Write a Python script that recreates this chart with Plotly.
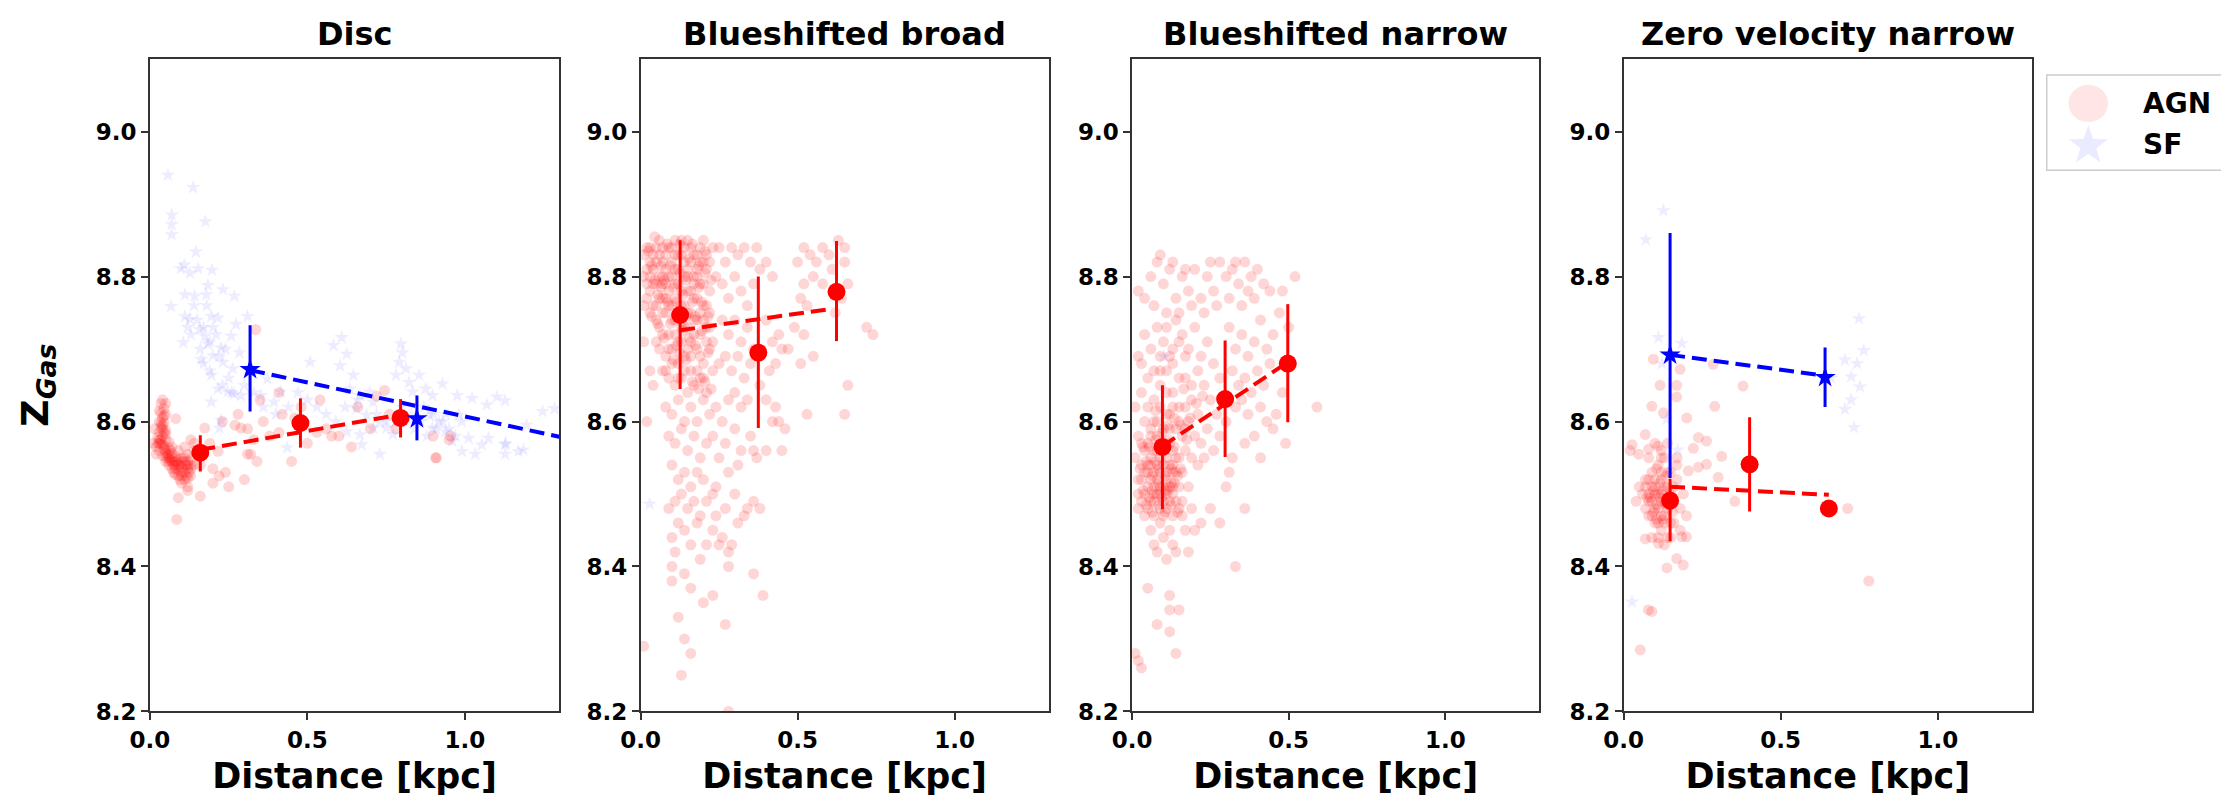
import math
import plotly.graph_objects as go

# ---------------- data ----------------
panel_titles = ["Disc", "Blueshifted broad", "Blueshifted narrow", "Zero velocity narrow"]

# Disc
disc_agn = [
    (0.04, 8.630), (0.05, 8.625), (0.045, 8.618), (0.035, 8.612), (0.05, 8.610), (0.04, 8.605), (0.03, 8.600),
    (0.045, 8.598), (0.035, 8.592), (0.05, 8.588), (0.03, 8.585), (0.04, 8.580), (0.025, 8.578), (0.05, 8.575),
    (0.035, 8.570), (0.045, 8.566), (0.02, 8.565), (0.06, 8.563), (0.03, 8.560), (0.05, 8.557), (0.07, 8.556),
    (0.04, 8.553), (0.06, 8.550), (0.08, 8.552), (0.09, 8.548), (0.07, 8.545), (0.10, 8.545), (0.11, 8.550),
    (0.12, 8.555), (0.08, 8.540), (0.10, 8.538), (0.12, 8.540), (0.13, 8.548), (0.09, 8.533), (0.11, 8.530),
    (0.13, 8.535), (0.10, 8.525), (0.12, 8.522), (0.08, 8.527), (0.06, 8.540), (0.05, 8.545), (0.02, 8.555),
    (0.01, 8.570), (0.015, 8.590), (0.06, 8.572), (0.07, 8.565), (0.14, 8.560), (0.13, 8.575), (0.11, 8.565),
    (0.09, 8.560), (0.03, 8.615), (0.04, 8.595), (0.05, 8.583), (0.035, 8.575), (0.045, 8.562), (0.055, 8.553),
    (0.065, 8.547), (0.075, 8.540), (0.085, 8.545), (0.095, 8.540), (0.105, 8.535), (0.115, 8.540),
    (0.125, 8.530), (0.07, 8.535), (0.09, 8.525), (0.11, 8.520), (0.13, 8.525), (0.025, 8.57), (0.03, 8.57),
    (0.04, 8.59), (0.06, 8.555), (0.08, 8.545), (0.10, 8.55), (0.12, 8.545), (0.14, 8.54), (0.10, 8.515),
    (0.12, 8.51),
    (0.035, 8.625), (0.045, 8.608), (0.035, 8.598), (0.045, 8.585), (0.03, 8.575), (0.04, 8.568),
    (0.05, 8.560), (0.06, 8.545), (0.07, 8.550), (0.08, 8.535), (0.09, 8.540), (0.10, 8.530), (0.11, 8.545),
    (0.12, 8.535), (0.13, 8.540), (0.075, 8.530), (0.095, 8.520), (0.115, 8.525), (0.05, 8.550), (0.065, 8.560),
    (0.09, 8.495), (0.12, 8.505), (0.085, 8.465), (0.16, 8.497), (0.20, 8.515), (0.25, 8.510),
    (0.30, 8.52), (0.14, 8.57), (0.20, 8.535), (0.22, 8.525), (0.19, 8.57), (0.23, 8.60), (0.27, 8.595),
    (0.28, 8.61), (0.31, 8.59), (0.32, 8.555), (0.33, 8.575), (0.36, 8.60), (0.38, 8.58), (0.41, 8.585),
    (0.42, 8.61), (0.45, 8.545), (0.46, 8.605), (0.50, 8.57), (0.53, 8.585), (0.56, 8.59), (0.60, 8.58),
    (0.64, 8.565), (0.70, 8.59), (0.35, 8.63), (0.41, 8.64), (0.48, 8.62), (0.54, 8.63), (0.66, 8.62),
    (0.72, 8.635), (0.76, 8.61), (0.90, 8.58), (0.95, 8.575), (0.91, 8.55), (0.78, 8.59), (0.24, 8.53),
    (0.34, 8.545), (0.16, 8.54), (0.336, 8.727), (0.082, 8.604), (0.174, 8.591), (0.216, 8.559), (0.289, 8.591),
    (0.31, 8.555), (0.577, 8.580), (0.745, 8.643), (0.907, 8.550), (0.955, 8.580),
]
disc_sf = [
    (0.057, 8.940), (0.137, 8.923), (0.069, 8.885), (0.069, 8.872), (0.069, 8.858), (0.176, 8.876),
    (0.146, 8.834), (0.109, 8.816), (0.127, 8.805), (0.098, 8.811), (0.153, 8.811), (0.197, 8.809),
    (0.184, 8.788), (0.067, 8.759), (0.111, 8.775), (0.142, 8.773), (0.179, 8.775), (0.232, 8.782),
    (0.268, 8.773), (0.111, 8.745), (0.127, 8.741), (0.195, 8.745), (0.216, 8.743), (0.158, 8.727),
    (0.174, 8.718), (0.106, 8.709), (0.184, 8.707), (0.226, 8.702), (0.258, 8.718), (0.310, 8.745),
    (0.273, 8.734), (0.163, 8.686), (0.200, 8.691), (0.232, 8.682), (0.263, 8.673), (0.284, 8.695),
    (0.195, 8.664), (0.216, 8.645), (0.247, 8.641), (0.268, 8.638), (0.289, 8.636), (0.195, 8.627),
    (0.226, 8.602), (0.221, 8.591), (0.373, 8.659), (0.352, 8.636), (0.394, 8.627), (0.415, 8.641),
    (0.436, 8.564), (0.509, 8.682), (0.583, 8.705), (0.609, 8.716), (0.625, 8.693), (0.604, 8.677),
    (0.646, 8.664), (0.635, 8.645), (0.667, 8.636), (0.698, 8.641), (0.709, 8.627), (0.656, 8.618),
    (0.688, 8.609), (0.730, 8.600), (0.751, 8.591), (0.709, 8.591), (0.772, 8.582), (0.667, 8.582),
    (0.625, 8.586), (0.730, 8.555), (0.672, 8.568), (0.797, 8.707), (0.802, 8.695), (0.792, 8.682),
    (0.813, 8.673), (0.782, 8.664), (0.823, 8.654), (0.834, 8.641), (0.855, 8.664), (0.876, 8.645),
    (0.897, 8.636), (0.929, 8.652), (0.887, 8.609), (0.918, 8.600), (0.897, 8.591), (0.939, 8.586),
    (0.976, 8.636), (0.981, 8.609), (0.960, 8.573), (0.991, 8.559), (1.023, 8.632), (1.012, 8.577),
    (1.033, 8.555), (1.054, 8.568), (1.070, 8.623), (1.075, 8.577), (1.102, 8.634), (1.128, 8.629),
    (1.128, 8.568), (1.128, 8.555), (1.170, 8.559), (1.196, 8.595), (1.247, 8.614), (1.285, 8.618),
    (1.186, 8.561), (1.13, 8.57),
    (0.13, 8.72), (0.15, 8.74), (0.17, 8.73), (0.19, 8.71), (0.21, 8.72), (0.16, 8.70), (0.14, 8.76),
    (0.18, 8.76), (0.20, 8.73), (0.22, 8.69), (0.24, 8.70), (0.25, 8.66), (0.12, 8.73), (0.17, 8.68),
    (0.19, 8.67), (0.23, 8.65), (0.26, 8.64), (0.30, 8.65), (0.33, 8.64), (0.36, 8.62), (0.40, 8.61),
    (0.44, 8.62), (0.47, 8.64), (0.50, 8.63), (0.53, 8.62), (0.56, 8.61), (0.59, 8.60), (0.62, 8.62),
    (0.66, 8.63), (0.72, 8.61), (0.75, 8.60), (0.78, 8.60), (0.82, 8.60), (0.84, 8.59), (0.86, 8.60),
    (0.88, 8.58), (0.90, 8.61), (0.93, 8.60), (0.95, 8.59), (0.97, 8.58), (0.99, 8.60), (0.80, 8.62),
    (0.83, 8.61), (0.87, 8.62), (0.91, 8.59), (0.94, 8.61),
]

# Blueshifted broad
broad_agn = [
    (0.01, 8.83), (0.02, 8.81), (0.03, 8.84), (0.04, 8.79), (0.05, 8.82), (0.06, 8.85), (0.07, 8.80),
    (0.08, 8.83), (0.09, 8.78), (0.10, 8.84), (0.11, 8.81), (0.12, 8.79), (0.13, 8.85), (0.14, 8.82),
    (0.15, 8.78), (0.16, 8.84), (0.17, 8.80), (0.18, 8.83), (0.19, 8.79), (0.20, 8.85), (0.21, 8.81),
    (0.22, 8.78), (0.23, 8.84), (0.24, 8.80),
    (0.02, 8.77), (0.03, 8.75), (0.05, 8.76), (0.06, 8.73), (0.07, 8.77), (0.08, 8.75), (0.09, 8.72),
    (0.10, 8.76), (0.11, 8.74), (0.12, 8.71), (0.13, 8.76), (0.14, 8.73), (0.15, 8.75), (0.16, 8.71),
    (0.17, 8.77), (0.18, 8.74), (0.19, 8.72), (0.20, 8.76), (0.21, 8.73), (0.22, 8.75), (0.23, 8.71),
    (0.04, 8.83), (0.06, 8.80), (0.08, 8.79), (0.10, 8.80), (0.12, 8.83), (0.14, 8.80), (0.16, 8.78),
    (0.18, 8.80), (0.20, 8.82), (0.03, 8.80), (0.07, 8.84), (0.11, 8.85), (0.15, 8.85), (0.19, 8.84),
    (0.02, 8.84), (0.03, 8.82), (0.04, 8.81), (0.05, 8.79), (0.06, 8.83), (0.07, 8.82), (0.08, 8.81),
    (0.09, 8.84), (0.10, 8.82), (0.11, 8.79), (0.12, 8.81), (0.13, 8.83), (0.14, 8.84), (0.15, 8.81),
    (0.16, 8.82), (0.17, 8.83), (0.18, 8.81), (0.19, 8.82), (0.20, 8.79), (0.21, 8.83), (0.22, 8.82),
    (0.02, 8.79), (0.04, 8.76), (0.05, 8.74), (0.06, 8.77), (0.07, 8.75), (0.08, 8.77), (0.09, 8.76),
    (0.10, 8.74), (0.11, 8.77), (0.12, 8.75), (0.13, 8.73), (0.14, 8.76), (0.15, 8.73), (0.16, 8.75),
    (0.17, 8.74), (0.18, 8.77), (0.19, 8.75), (0.20, 8.74), (0.21, 8.76), (0.22, 8.73),
    (0.05, 8.71), (0.07, 8.72), (0.09, 8.70), (0.11, 8.72), (0.13, 8.71), (0.15, 8.70), (0.17, 8.72),
    (0.19, 8.69), (0.21, 8.71), (0.08, 8.67), (0.12, 8.66), (0.16, 8.69), (0.18, 8.67), (0.20, 8.66),
    (0.14, 8.67), (0.10, 8.68), (0.09, 8.80), (0.13, 8.78), (0.17, 8.79), (0.11, 8.83), (0.15, 8.80),
    (0.07, 8.79), (0.05, 8.84), (0.03, 8.78), (0.01, 8.80), (0.01, 8.76),
    (0.025, 8.835), (0.035, 8.815), (0.045, 8.795), (0.055, 8.775), (0.065, 8.815), (0.075, 8.795),
    (0.085, 8.765), (0.095, 8.815), (0.105, 8.785), (0.115, 8.765), (0.125, 8.805), (0.135, 8.775),
    (0.145, 8.745), (0.155, 8.825), (0.165, 8.765), (0.175, 8.745), (0.185, 8.785), (0.195, 8.765),
    (0.205, 8.805), (0.215, 8.745), (0.225, 8.795), (0.035, 8.745), (0.055, 8.735), (0.075, 8.715),
    (0.095, 8.735), (0.115, 8.705), (0.135, 8.725), (0.155, 8.715), (0.175, 8.705), (0.195, 8.725),
    (0.215, 8.695), (0.105, 8.685), (0.125, 8.695), (0.145, 8.685), (0.165, 8.655), (0.185, 8.645),
    (0.205, 8.655), (0.225, 8.645), (0.085, 8.845), (0.125, 8.845), (0.165, 8.845), (0.205, 8.835),
    (0.045, 8.855), (0.065, 8.785), (0.145, 8.795), (0.185, 8.815),
    (0.06, 8.70), (0.08, 8.69), (0.10, 8.70), (0.12, 8.68), (0.14, 8.69), (0.16, 8.67), (0.18, 8.70),
    (0.20, 8.68), (0.22, 8.70), (0.07, 8.67), (0.09, 8.66), (0.11, 8.65), (0.13, 8.66), (0.15, 8.64),
    (0.17, 8.65), (0.19, 8.66), (0.21, 8.64), (0.23, 8.67), (0.25, 8.68),
    (0.08, 8.62), (0.10, 8.61), (0.12, 8.63), (0.14, 8.60), (0.16, 8.62), (0.18, 8.60), (0.20, 8.63),
    (0.22, 8.61), (0.24, 8.62), (0.26, 8.60), (0.28, 8.63), (0.09, 8.58), (0.11, 8.57), (0.13, 8.59),
    (0.15, 8.56), (0.17, 8.58), (0.19, 8.55), (0.21, 8.57), (0.23, 8.58), (0.25, 8.55), (0.27, 8.57),
    (0.30, 8.59), (0.32, 8.56), (0.35, 8.58), (0.37, 8.55), (0.10, 8.54), (0.12, 8.52), (0.14, 8.53),
    (0.16, 8.51), (0.18, 8.53), (0.20, 8.52), (0.24, 8.51), (0.28, 8.53), (0.31, 8.54), (0.36, 8.56),
    (0.40, 8.56), (0.13, 8.50), (0.15, 8.48), (0.17, 8.49), (0.21, 8.49), (0.19, 8.47), (0.23, 8.50),
    (0.27, 8.48), (0.30, 8.50),
    (0.25, 8.84), (0.27, 8.82), (0.29, 8.84), (0.31, 8.83), (0.33, 8.84), (0.35, 8.82), (0.37, 8.84),
    (0.26, 8.79), (0.28, 8.77), (0.30, 8.80), (0.32, 8.78), (0.34, 8.76), (0.36, 8.79), (0.38, 8.81),
    (0.40, 8.82), (0.42, 8.80), (0.26, 8.74), (0.28, 8.72), (0.30, 8.74), (0.32, 8.71), (0.34, 8.73),
    (0.36, 8.70), (0.40, 8.74), (0.42, 8.71), (0.44, 8.72), (0.27, 8.69), (0.29, 8.67), (0.31, 8.69),
    (0.33, 8.66), (0.35, 8.68), (0.38, 8.65), (0.41, 8.67), (0.43, 8.68), (0.45, 8.70), (0.47, 8.70),
    (0.30, 8.64), (0.32, 8.62), (0.34, 8.63), (0.40, 8.63), (0.43, 8.62), (0.42, 8.60), (0.44, 8.60),
    (0.46, 8.59), (0.45, 8.56),
    (0.50, 8.82), (0.52, 8.84), (0.54, 8.83), (0.56, 8.82), (0.58, 8.84), (0.60, 8.83), (0.63, 8.85),
    (0.65, 8.84), (0.52, 8.79), (0.55, 8.80), (0.58, 8.79), (0.61, 8.81), (0.65, 8.82), (0.51, 8.77),
    (0.53, 8.76), (0.64, 8.77), (0.66, 8.79), (0.72, 8.73), (0.74, 8.72), (0.49, 8.73), (0.52, 8.72),
    (0.55, 8.69), (0.51, 8.68), (0.66, 8.65), (0.53, 8.61), (0.65, 8.61), (0.62, 8.75),
    (0.12, 8.46), (0.10, 8.44), (0.14, 8.45), (0.18, 8.46), (0.23, 8.45), (0.26, 8.44), (0.11, 8.42),
    (0.16, 8.43), (0.21, 8.43), (0.25, 8.43), (0.29, 8.43), (0.33, 8.47), (0.34, 8.48), (0.38, 8.48),
    (0.36, 8.49), (0.24, 8.47), (0.31, 8.46), (0.10, 8.40), (0.14, 8.39), (0.19, 8.41), (0.28, 8.42),
    (0.16, 8.37), (0.20, 8.35), (0.28, 8.40), (0.23, 8.36), (0.10, 8.38), (0.12, 8.33), (0.14, 8.30),
    (0.16, 8.28), (0.27, 8.32), (0.13, 8.25), (0.28, 8.20), (0.39, 8.36), (0.36, 8.39), (0.01, 8.29),
    (0.02, 8.60), (0.03, 8.67), (0.04, 8.65), (0.01, 8.71), (0.09, 8.48), (0.11, 8.49),
]
broad_sf = [(0.029, 8.486)]

# Blueshifted narrow
narrow_agn = [
    (0.01, 8.55), (0.02, 8.52), (0.03, 8.57), (0.04, 8.50), (0.05, 8.54), (0.06, 8.49), (0.07, 8.56),
    (0.08, 8.52), (0.09, 8.48), (0.10, 8.54), (0.11, 8.50), (0.12, 8.57), (0.13, 8.53), (0.14, 8.49),
    (0.15, 8.55), (0.02, 8.58), (0.04, 8.60), (0.06, 8.58), (0.08, 8.60), (0.10, 8.59), (0.12, 8.61),
    (0.14, 8.59), (0.03, 8.54), (0.05, 8.51), (0.07, 8.53), (0.09, 8.55), (0.11, 8.52), (0.13, 8.56),
    (0.06, 8.52), (0.08, 8.50), (0.10, 8.51), (0.12, 8.49), (0.05, 8.57), (0.07, 8.50), (0.09, 8.51),
    (0.11, 8.55), (0.13, 8.51), (0.15, 8.51), (0.16, 8.53), (0.17, 8.56), (0.16, 8.49), (0.18, 8.51),
    (0.04, 8.47), (0.07, 8.47), (0.10, 8.47), (0.13, 8.47), (0.06, 8.45), (0.09, 8.46), (0.12, 8.45),
    (0.16, 8.47), (0.19, 8.48),
    (0.02, 8.50), (0.03, 8.49), (0.04, 8.53), (0.05, 8.48), (0.06, 8.55), (0.07, 8.51), (0.08, 8.54),
    (0.09, 8.50), (0.10, 8.49), (0.11, 8.53), (0.12, 8.51), (0.13, 8.50), (0.14, 8.53), (0.15, 8.48),
    (0.03, 8.52), (0.05, 8.53), (0.07, 8.49), (0.09, 8.53), (0.11, 8.48), (0.13, 8.54), (0.04, 8.56),
    (0.06, 8.54), (0.08, 8.56), (0.10, 8.56), (0.12, 8.54), (0.14, 8.55), (0.08, 8.58), (0.10, 8.57),
    (0.06, 8.59), (0.12, 8.59), (0.16, 8.58), (0.09, 8.62), (0.13, 8.62), (0.07, 8.60), (0.11, 8.64),
    (0.15, 8.60), (0.17, 8.62), (0.19, 8.65), (0.21, 8.67), (0.09, 8.67), (0.13, 8.68), (0.17, 8.69),
    (0.15, 8.71), (0.11, 8.73),
    (0.025, 8.535), (0.035, 8.505), (0.045, 8.545), (0.055, 8.495), (0.065, 8.525), (0.075, 8.545),
    (0.085, 8.515), (0.095, 8.495), (0.105, 8.525), (0.115, 8.505), (0.125, 8.535), (0.135, 8.515),
    (0.145, 8.525), (0.155, 8.535), (0.035, 8.565), (0.055, 8.565), (0.075, 8.575), (0.095, 8.565),
    (0.115, 8.575), (0.135, 8.565), (0.045, 8.485), (0.065, 8.475), (0.085, 8.485), (0.105, 8.475),
    (0.125, 8.485), (0.145, 8.475), (0.065, 8.505), (0.085, 8.535), (0.105, 8.505), (0.125, 8.515),
    (0.095, 8.585), (0.115, 8.595), (0.075, 8.615), (0.135, 8.605), (0.155, 8.595), (0.175, 8.575),
    (0.185, 8.605), (0.205, 8.625), (0.225, 8.635), (0.165, 8.645),
    (0.01, 8.62), (0.03, 8.64), (0.05, 8.66), (0.07, 8.63), (0.09, 8.65), (0.11, 8.67), (0.13, 8.64),
    (0.15, 8.62), (0.17, 8.66), (0.19, 8.63), (0.21, 8.61), (0.23, 8.65), (0.02, 8.69), (0.04, 8.72),
    (0.06, 8.70), (0.08, 8.73), (0.10, 8.71), (0.12, 8.69), (0.14, 8.74), (0.16, 8.72), (0.18, 8.70),
    (0.20, 8.73), (0.22, 8.69), (0.24, 8.71), (0.26, 8.68), (0.25, 8.63), (0.27, 8.61), (0.28, 8.66),
    (0.18, 8.60), (0.20, 8.58), (0.22, 8.57), (0.24, 8.59), (0.26, 8.56), (0.28, 8.58), (0.30, 8.60),
    (0.19, 8.55), (0.21, 8.54), (0.23, 8.55), (0.17, 8.59), (0.15, 8.66), (0.13, 8.70), (0.11, 8.61),
    (0.09, 8.69), (0.07, 8.67), (0.05, 8.62), (0.03, 8.68),
    (0.02, 8.78), (0.04, 8.77), (0.06, 8.80), (0.08, 8.82), (0.10, 8.79), (0.12, 8.81), (0.14, 8.77),
    (0.16, 8.80), (0.18, 8.78), (0.20, 8.81), (0.22, 8.77), (0.24, 8.80), (0.26, 8.78), (0.28, 8.82),
    (0.30, 8.80), (0.32, 8.81), (0.34, 8.79), (0.36, 8.82), (0.07, 8.76), (0.11, 8.75), (0.15, 8.75),
    (0.19, 8.76), (0.23, 8.75), (0.27, 8.76), (0.31, 8.77), (0.35, 8.76), (0.09, 8.83), (0.13, 8.82),
    (0.17, 8.81), (0.25, 8.82), (0.33, 8.82), (0.38, 8.80), (0.40, 8.81), (0.42, 8.79), (0.44, 8.78),
    (0.48, 8.78), (0.52, 8.80), (0.37, 8.78), (0.39, 8.77),
    (0.31, 8.73), (0.33, 8.70), (0.35, 8.72), (0.37, 8.69), (0.39, 8.71), (0.41, 8.74), (0.43, 8.70),
    (0.45, 8.72), (0.47, 8.75), (0.50, 8.73), (0.32, 8.67), (0.34, 8.65), (0.36, 8.66), (0.38, 8.64),
    (0.40, 8.67), (0.42, 8.65), (0.44, 8.68), (0.33, 8.62), (0.35, 8.63), (0.37, 8.61), (0.41, 8.62),
    (0.43, 8.60), (0.45, 8.59), (0.46, 8.61), (0.39, 8.58), (0.36, 8.57), (0.41, 8.55), (0.32, 8.55),
    (0.59, 8.62), (0.49, 8.57), (0.48, 8.64),
    (0.07, 8.43), (0.10, 8.44), (0.13, 8.43), (0.17, 8.45), (0.20, 8.45), (0.02, 8.48), (0.14, 8.42),
    (0.08, 8.42), (0.18, 8.42), (0.22, 8.46), (0.25, 8.48), (0.28, 8.46), (0.33, 8.40), (0.11, 8.41),
    (0.30, 8.51), (0.31, 8.53), (0.36, 8.48), (0.05, 8.37), (0.12, 8.34), (0.12, 8.36), (0.08, 8.32),
    (0.15, 8.34), (0.12, 8.31), (0.14, 8.28), (0.01, 8.28), (0.02, 8.27), (0.03, 8.26),
]
narrow_sf = [(0.102, 8.69)]

# Zero velocity narrow
zero_agn = [
    (0.095, 8.686), (0.180, 8.672), (0.116, 8.650), (0.169, 8.650), (0.285, 8.679), (0.380, 8.649),
    (0.090, 8.621), (0.127, 8.612), (0.169, 8.634), (0.201, 8.605), (0.290, 8.621), (0.069, 8.582),
    (0.027, 8.568), (0.021, 8.560), (0.238, 8.578), (0.264, 8.573), (0.312, 8.552), (0.222, 8.563),
    (0.048, 8.555), (0.08, 8.562), (0.11, 8.566), (0.12, 8.550), (0.17, 8.540), (0.206, 8.532),
    (0.238, 8.537), (0.264, 8.541), (0.301, 8.523), (0.354, 8.490), (0.713, 8.480), (0.069, 8.438),
    (0.111, 8.432), (0.185, 8.441), (0.20, 8.441), (0.169, 8.411), (0.190, 8.402), (0.138, 8.398),
    (0.079, 8.340), (0.090, 8.338), (0.053, 8.285), (0.78, 8.38),
    (0.06, 8.50), (0.07, 8.52), (0.08, 8.49), (0.09, 8.51), (0.10, 8.48), (0.11, 8.50), (0.12, 8.53),
    (0.13, 8.47), (0.14, 8.51), (0.15, 8.46), (0.16, 8.49), (0.17, 8.52), (0.18, 8.48), (0.19, 8.50),
    (0.08, 8.47), (0.10, 8.46), (0.12, 8.45), (0.14, 8.44), (0.11, 8.44), (0.09, 8.53), (0.11, 8.54),
    (0.13, 8.55), (0.15, 8.53), (0.13, 8.49), (0.10, 8.51), (0.12, 8.49), (0.07, 8.48), (0.05, 8.51),
    (0.04, 8.49), (0.16, 8.46), (0.18, 8.45), (0.20, 8.47), (0.12, 8.56), (0.14, 8.57), (0.10, 8.57),
    (0.08, 8.55), (0.17, 8.55), (0.09, 8.44), (0.13, 8.43), (0.15, 8.44),
    (0.08, 8.50), (0.09, 8.49), (0.10, 8.50), (0.11, 8.48), (0.12, 8.50), (0.13, 8.51), (0.14, 8.48),
    (0.15, 8.50), (0.09, 8.47), (0.11, 8.46), (0.13, 8.46), (0.12, 8.47), (0.10, 8.52), (0.14, 8.53),
    (0.16, 8.51), (0.07, 8.51), (0.12, 8.52), (0.08, 8.52),
    (0.085, 8.495), (0.095, 8.505), (0.105, 8.485), (0.115, 8.495), (0.125, 8.505), (0.135, 8.485),
    (0.105, 8.465), (0.125, 8.465), (0.095, 8.475), (0.115, 8.515), (0.135, 8.525), (0.145, 8.495),
    (0.075, 8.495), (0.155, 8.475), (0.105, 8.535),
]
zero_sf = [
    (0.127, 8.891), (0.071, 8.851), (0.111, 8.716), (0.185, 8.708), (0.122, 8.680), (0.137, 8.603),
    (0.172, 8.561), (0.027, 8.351), (0.749, 8.742), (0.764, 8.698), (0.704, 8.685), (0.743, 8.680),
    (0.724, 8.662), (0.752, 8.648), (0.704, 8.617), (0.724, 8.630), (0.733, 8.592), (0.66, 8.66),
]

# binned means with error bars: x, y, err_plus, err_minus
agn_bins = [
    dict(x=[0.160, 0.478, 0.796], y=[8.557, 8.598, 8.605], ep=[0.024, 0.034, 0.026], em=[0.026, 0.034, 0.027]),
    dict(x=[0.126, 0.375, 0.624], y=[8.747, 8.695, 8.779], ep=[0.103, 0.105, 0.070], em=[0.102, 0.104, 0.068]),
    dict(x=[0.097, 0.297, 0.497], y=[8.565, 8.631, 8.680], ep=[0.085, 0.081, 0.082], em=[0.086, 0.080, 0.081]),
    dict(x=[0.148, 0.401, 0.653], y=[8.491, 8.541, 8.480], ep=[0.030, 0.065, 0.0], em=[0.056, 0.065, 0.0]),
]
sf_bins = [
    dict(x=[0.318, 0.848], y=[8.672, 8.604], ep=[0.061, 0.032], em=[0.058, 0.030]),
    None,
    None,
    dict(x=[0.148, 0.641], y=[8.692, 8.661], ep=[0.168, 0.041], em=[0.170, 0.041]),
]
# dashed trend lines: (x0, x1), (y0, y1)
agn_trend = [
    ([0.160, 0.800], [8.561, 8.610]),
    ([0.126, 0.600], [8.726, 8.755]),
    ([0.097, 0.490], [8.566, 8.680]),
    ([0.148, 0.653], [8.510, 8.499]),
]
sf_trend = [
    ([0.318, 1.30], [8.671, 8.579]),
    None,
    None,
    ([0.148, 0.645], [8.692, 8.663]),
]
agn_clouds = [disc_agn, broad_agn, narrow_agn, zero_agn]
sf_clouds = [disc_sf, broad_sf, narrow_sf, zero_sf]
legend_labels = ["AGN", "SF"]

# ---------------- figure ----------------
RED = "#ff0000"
BLUE = "#0000ff"
FONT = "DejaVu Sans"
W, H = 2229, 804
x_domains = [[0.0552, 0.2405], [0.2773, 0.4621], [0.4998, 0.6842], [0.7223, 0.9073]]
y_domain = [0.1107, 0.9353]

fig = go.Figure()

for i in range(4):
    xa = "x" if i == 0 else f"x{i+1}"
    ya = "y" if i == 0 else f"y{i+1}"

    ax, ay = zip(*agn_clouds[i])
    fig.add_trace(go.Scatter(
        x=ax, y=ay, mode="markers", xaxis=xa, yaxis=ya, name="AGN", showlegend=False,
        marker=dict(symbol="circle", size=11, color="rgba(255,0,0,0.16)", line=dict(width=0)),
    ))
    sx, sy = zip(*sf_clouds[i])
    fig.add_trace(go.Scatter(
        x=sx, y=sy, mode="markers", xaxis=xa, yaxis=ya, name="SF", showlegend=False,
        marker=dict(symbol="star", size=11, color="rgba(0,0,255,0.07)", line=dict(width=0)),
    ))

    # dashed trend lines
    lx, ly = agn_trend[i]
    fig.add_trace(go.Scatter(
        x=lx, y=ly, mode="lines", xaxis=xa, yaxis=ya, showlegend=False,
        line=dict(color=RED, width=4, dash="15px,7px"),
    ))
    if sf_trend[i] is not None:
        lx, ly = sf_trend[i]
        fig.add_trace(go.Scatter(
            x=lx, y=ly, mode="lines", xaxis=xa, yaxis=ya, showlegend=False,
            line=dict(color=BLUE, width=4, dash="15px,7px"),
        ))

    # binned means
    b = agn_bins[i]
    fig.add_trace(go.Scatter(
        x=b["x"], y=b["y"], mode="markers", xaxis=xa, yaxis=ya, showlegend=False,
        marker=dict(symbol="circle", size=18, color=RED),
        error_y=dict(type="data", array=b["ep"], arrayminus=b["em"], color=RED, thickness=3, width=0),
    ))
    if sf_bins[i] is not None:
        b = sf_bins[i]
        fig.add_trace(go.Scatter(
            x=b["x"], y=b["y"], mode="markers", xaxis=xa, yaxis=ya, showlegend=False,
            marker=dict(symbol="star", size=16, color=BLUE),
            error_y=dict(type="data", array=b["ep"], arrayminus=b["em"], color=BLUE, thickness=3, width=0),
        ))

axis_common = dict(
    showline=True, mirror=True, linecolor="#333333", linewidth=1.5,
    ticks="outside", ticklen=7, tickwidth=1.5, tickcolor="#333333",
    showgrid=False, zeroline=False,
    tickfont=dict(family=FONT, size=23, color="black", weight="bold"),
)

layout_axes = {}
for i in range(4):
    xk = "xaxis" if i == 0 else f"xaxis{i+1}"
    yk = "yaxis" if i == 0 else f"yaxis{i+1}"
    layout_axes[xk] = dict(
        axis_common, domain=x_domains[i], anchor="y" if i == 0 else f"y{i+1}",
        range=[0, 1.3], tickvals=[0, 0.5, 1.0], tickformat=".1f",
        title=dict(text="<b>Distance [kpc]</b>", font=dict(family=FONT, size=35, color="black"), standoff=12),
    )
    layout_axes[yk] = dict(
        axis_common, domain=y_domain, anchor="x" if i == 0 else f"x{i+1}",
        range=[8.2, 9.1], tickvals=[8.2, 8.4, 8.6, 8.8, 9.0], tickformat=".1f",
    )
layout_axes["yaxis"]["title"] = dict(
    text="<b>Z<sub><i>Gas</i></sub></b>", font=dict(family=FONT, size=38, color="black"), standoff=36,
)

fig.update_layout(
    width=W, height=H,
    paper_bgcolor="white", plot_bgcolor="white",
    margin=dict(l=0, r=0, t=0, b=0),
    font=dict(family=FONT, color="black"),
    showlegend=False,
    **layout_axes,
)

for i, t in enumerate(panel_titles):
    fig.add_annotation(
        x=sum(x_domains[i]) / 2, y=1 - 26 / H, xref="paper", yref="paper",
        text=f"<b>{t}</b>", showarrow=False, xanchor="center", yanchor="middle",
        font=dict(family=FONT, size=32, color="black"),
    )


# legend box drawn by hand so the keys can be as large as in the original
def px(x, y):
    return x / W, 1 - y / H


def star_path(cx, cy, r_out, r_in):
    pts = []
    for k in range(10):
        r = r_out if k % 2 == 0 else r_in
        a = math.pi / 2 + k * math.pi / 5
        pts.append(px(cx + r * math.cos(a), cy - r * math.sin(a)))
    return "M " + " L ".join(f"{x:.5f},{y:.5f}" for x, y in pts) + " Z"


bx0, by0 = px(2037, 68)
bx1, by1 = px(2216, 165)
fig.add_shape(type="rect", xref="paper", yref="paper", x0=bx0, y0=by0, x1=bx1, y1=by1,
              line=dict(color="#cccccc", width=1.5), fillcolor="white")
cx0, cy0 = px(2059, 78)
cx1, cy1 = px(2099, 116)
fig.add_shape(type="circle", xref="paper", yref="paper", x0=cx0, y0=cy0, x1=cx1, y1=cy1,
              line=dict(width=0), fillcolor="rgba(255,0,0,0.10)")
fig.add_shape(type="path", xref="paper", yref="paper", path=star_path(2079, 140, 21, 8.5),
              line=dict(width=0), fillcolor="rgba(0,0,255,0.08)")
for lab, yy in zip(legend_labels, [97, 139]):
    lx, ly = px(2132, yy)
    fig.add_annotation(x=lx, y=ly, xref="paper", yref="paper", text=f"<b>{lab}</b>",
                       showarrow=False, xanchor="left", yanchor="middle",
                       font=dict(family=FONT, size=28, color="black"))

fig.write_html("out.html")
